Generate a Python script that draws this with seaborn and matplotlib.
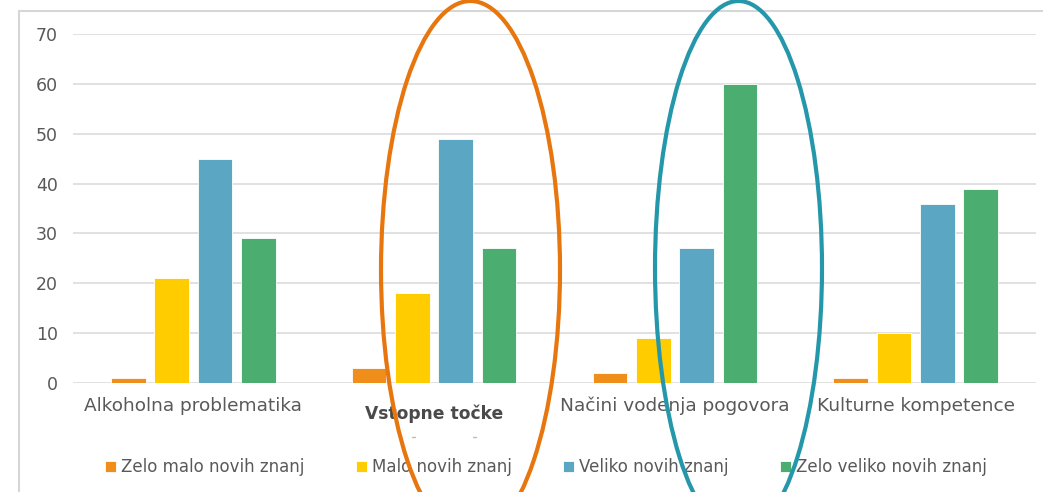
import matplotlib
matplotlib.use("Agg")
import matplotlib.pyplot as plt
import matplotlib.transforms as mtransforms
from matplotlib.patches import Ellipse, Rectangle
from matplotlib.lines import Line2D
import seaborn as sns
import pandas as pd

# Data
categories = ["Alkoholna problematika", "Vstopne točke",
              "Načini vodenja pogovora", "Kulturne kompetence"]
levels = ["Zelo malo novih znanj", "Malo novih znanj",
          "Veliko novih znanj", "Zelo veliko novih znanj"]
zelo_malo = [1, 3, 2, 1]
malo = [21, 18, 9, 10]
veliko = [45, 49, 27, 36]
zelo_veliko = [29, 27, 60, 39]
y_ticks = [0, 10, 20, 30, 40, 50, 60, 70]

colors = ["#EF8E1B", "#FFCC00", "#5BA6C2", "#4BAE70"]
text_color = "#595959"
grid_color = "#DCDCDC"

rows = []
for lvl, vals in zip(levels, [zelo_malo, malo, veliko, zelo_veliko]):
    for cat, v in zip(categories, vals):
        rows.append({"kategorija": cat, "raven": lvl, "vrednost": v})
df = pd.DataFrame(rows)

sns.set_theme(style="white")
plt.rcParams["font.family"] = ["DejaVu Sans"]

W, H = 1043, 492
fig = plt.figure(figsize=(W / 100, H / 100), dpi=100)
ax = fig.add_axes([73 / W, 1 - 383 / H, (1036 - 73) / W, (383 - 34) / H])

sns.barplot(data=df, x="kategorija", y="vrednost", hue="raven",
            order=categories, hue_order=levels, palette=colors,
            saturation=1, width=0.72, gap=0.2, ax=ax, errorbar=None,
            edgecolor="white", linewidth=0.6, zorder=3)

ax.set_ylim(0, 70)
ax.set_xlim(-0.5, len(categories) - 0.5)
ax.set_yticks(y_ticks)
ax.yaxis.grid(True, color=grid_color, linewidth=1.2, zorder=0)
ax.set_axisbelow(True)
for s in ax.spines.values():
    s.set_visible(False)
ax.set_xlabel("")
ax.set_ylabel("")
ax.tick_params(axis="y", length=0, pad=11, labelsize=12.5, labelcolor=text_color)
ax.tick_params(axis="x", length=0, pad=10, labelsize=13.3, labelcolor=text_color)

# Emphasised second category label
lab = ax.get_xticklabels()[1]
lab.set_fontweight("bold")
lab.set_color("#4A4A4A")
lab.set_fontsize(12.3)
lab.set_transform(lab.get_transform() +
                  mtransforms.ScaledTranslation(0, -8 / 100, fig.dpi_scale_trans))

# Legend along the bottom
handles, labels = ax.get_legend_handles_labels()
if ax.get_legend() is not None:
    ax.get_legend().remove()
fig.legend(handles, labels, loc="center", bbox_to_anchor=(546 / W, 1 - 467 / H),
           ncol=4, frameon=False, fontsize=12, labelcolor=text_color,
           handlelength=0.65, handleheight=0.65, handletextpad=0.3,
           columnspacing=3.1)

# Outer chart frame
fig.add_artist(Rectangle((19 / W, -0.1), 1.2, 1 - 11 / H + 0.1,
                         transform=fig.transFigure, fill=False,
                         edgecolor="#D6D6D6", linewidth=1.5, clip_on=False))

# Faint marks below the emphasised label
for x in (412, 473):
    fig.add_artist(Line2D([x / W, (x + 3) / W], [1 - 437 / H] * 2,
                          transform=fig.transFigure, color="#BBBBBB",
                          linewidth=1))

# Highlight ellipses around two groups
for cx, cy, w, h, col in [(470.5, 270, 179, 538, "#E8760F"),
                          (738.5, 268, 167, 534, "#2597AA")]:
    fig.add_artist(Ellipse((cx / W, 1 - cy / H), w / W, h / H,
                           transform=fig.transFigure, fill=False,
                           edgecolor=col, linewidth=3, clip_on=False,
                           zorder=10))

fig.savefig("out.png", dpi=100)
